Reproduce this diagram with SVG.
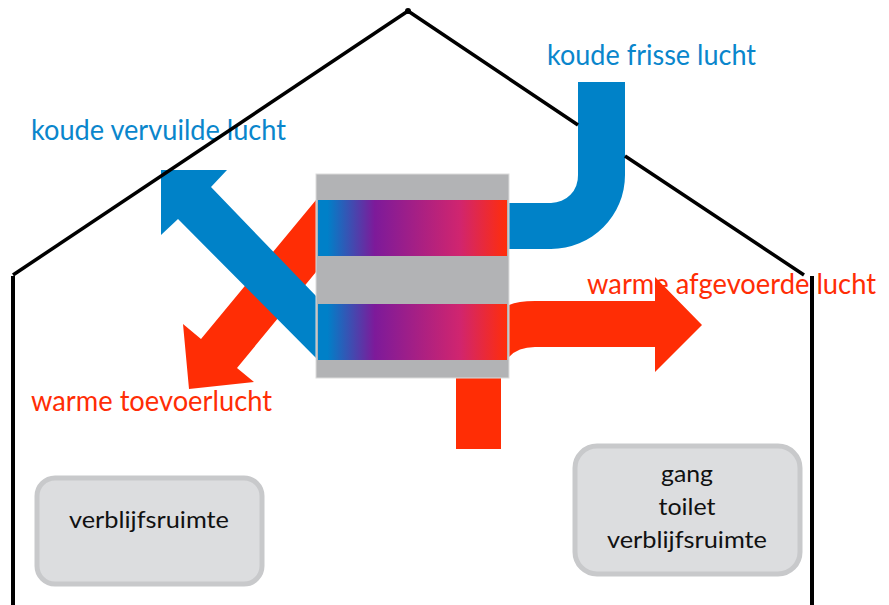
<svg xmlns="http://www.w3.org/2000/svg" width="889" height="605" viewBox="0 0 889 605">
<style>
.t{font-family:Lato,"Open Sans","Liberation Sans",sans-serif}
.lbl{font-size:28px}
.blue{fill:#0082c8}
.red{fill:#ff2d05}
.house{fill:none;stroke:#000;stroke-width:3.5}
.wall{fill:none;stroke:#000;stroke-width:4}
.room{fill:#dcdddf;stroke:#c8c9cb;stroke-width:5}
.nt{font-size:24px;fill:#111;text-anchor:middle}
</style>
<defs>
<linearGradient id="g" x1="0" y1="0" x2="1" y2="0">
<stop offset="0.05" stop-color="#0080c8"/>
<stop offset="0.3" stop-color="#7d1a9a"/>
<stop offset="0.75" stop-color="#d0256f"/>
<stop offset="1" stop-color="#ff2d0a"/>
</linearGradient>
</defs>
<rect width="889" height="605" fill="#fff"/>
<g id="labels">
<text class="t lbl" x="31" y="140" fill="#0a86cc" textLength="255" lengthAdjust="spacingAndGlyphs">koude vervuilde lucht</text>
<text class="t lbl" x="547" y="65" fill="#0a86cc" textLength="209" lengthAdjust="spacingAndGlyphs">koude frisse lucht</text>
<text class="t lbl" x="587" y="294" fill="#ff2d05" textLength="289" lengthAdjust="spacingAndGlyphs">warme afgevoerde lucht</text>
<text class="t lbl" x="31" y="411" fill="#ff2d05" textLength="241" lengthAdjust="spacingAndGlyphs">warme toevoerlucht</text>
</g>
<g id="connectors">
<path id="stub" class="red" d="M456 378H501V449H456Z"/>
<path id="supply-arrow" class="red" d="M316 200V272L237 368L254 382L189 389L183 324L201 339Z"/>
<path id="exhaust-arrow" class="red" d="M509 305Q518 301 535 301H655V277L702 325L655 372V347H535Q518 347 509 357Z"/>
<path id="fresh-duct" class="blue" d="M578 82H625V175A74 74 0 0 1 551 249H509V203H551A27 27 0 0 0 578 175Z"/>
<path id="stale-arrow" class="blue" d="M316 296L211 187L227 170L161 170L161 235L178 219L316 358Z"/>
</g>
<g id="house">
<path class="wall" d="M13 605V276"/>
<path class="house" d="M13 275L408 11"/>
<path class="house" d="M408 11L578 125M625 156L804 275"/>
<circle cx="408" cy="11" r="3" fill="#000"/>
<path class="wall" d="M812 276V605"/>
</g>
<g id="heat-exchanger">
<rect x="316" y="174" width="193" height="204" fill="#b2b3b5" stroke="#dcdcdc" stroke-width="1"/>
<rect x="318" y="200" width="189" height="56" fill="url(#g)"/>
<rect x="318" y="304" width="189" height="56" fill="url(#g)"/>
</g>
<g id="room-left">
<rect class="room" x="37" y="478" width="225" height="106" rx="18"/>
<text class="t nt" x="149" y="528" textLength="160" lengthAdjust="spacingAndGlyphs">verblijfsruimte</text>
</g>
<g id="room-right">
<rect class="room" x="575" y="446" width="225" height="128" rx="22"/>
<text class="t nt" x="687" y="482" textLength="52" lengthAdjust="spacingAndGlyphs">gang</text>
<text class="t nt" x="687" y="515" textLength="57" lengthAdjust="spacingAndGlyphs">toilet</text>
<text class="t nt" x="687" y="548" textLength="160" lengthAdjust="spacingAndGlyphs">verblijfsruimte</text>
</g>
</svg>
